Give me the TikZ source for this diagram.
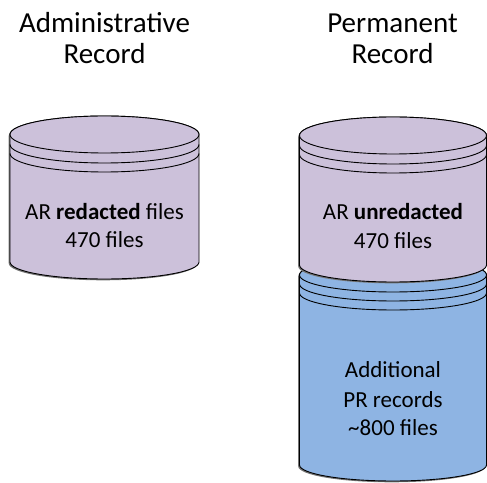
\documentclass[tikz,border=0pt]{standalone}
\usepackage{fontspec}
\setmainfont{Carlito}
\definecolor{lav}{HTML}{CCC1DA}
\definecolor{sky}{HTML}{8EB4E3}
\newcommand\canshape[7]{%
  \path[#7] ({#1-#2},#3) -- ({#1-#2},#5)
    arc[start angle=180,end angle=360,x radius=#2,y radius=#6]
    -- ({#1+#2},#3)
    arc[start angle=0,end angle=180,x radius=#2,y radius=#4] -- cycle;}
\newcommand\canring[4]{%
  \draw[outl] ({#1-#2},#3) arc[start angle=180,end angle=360,x radius=#2,y radius=#4];}
\newcommand\cantop[5]{%
  \path[fill=#5,outl] (#1,#3) ellipse[x radius=#2,y radius=#4];}
\begin{document}
\begin{tikzpicture}[x=1pt,y=1pt,
  outl/.style={draw=black, line width=0.9pt},
  shad/.style={fill=black!55, draw=none},
  title/.style={font=\fontsize{29}{31}\selectfont, anchor=base, inner sep=0pt, text=black},
  body/.style={font=\fontsize{23}{28}\selectfont, anchor=base, inner sep=0pt, text=black}]
\useasboundingbox (0,0) rectangle (487,482);

% ---- left cylinder: Administrative Record ----
\canshape{104.5}{94.5}{347.5}{18.5}{220}{17}{shad, xshift=-1.3pt, yshift=-1.3pt}
\canshape{104.5}{94.5}{347.5}{18.5}{220}{17}{fill=lav, outl}
\cantop{104.5}{94.5}{347.5}{18.5}{lav}
\canring{104.5}{94.5}{337.5}{18.5}
\canring{104.5}{94.5}{328.5}{18.5}

% ---- right cylinder: blue lower part ----
\canshape{393}{93.5}{207}{17}{17}{16}{shad, xshift=-1.3pt, yshift=-1.3pt}
\canshape{393}{93.5}{207}{17}{17}{16}{fill=sky, outl}
\cantop{393}{93.5}{207}{17}{sky}
\canring{393}{93.5}{198}{17}
\canring{393}{93.5}{189}{17}

% ---- right cylinder: purple upper part ----
\canshape{393}{93.5}{346.5}{18.5}{217}{17}{shad, xshift=-1.3pt, yshift=-1.3pt}
\canshape{393}{93.5}{346.5}{18.5}{217}{17}{fill=lav, outl}
\cantop{393}{93.5}{346.5}{18.5}{lav}
\canring{393}{93.5}{336.5}{18.5}
\canring{393}{93.5}{327.5}{18.5}

% ---- titles ----
\node[title] (t1a) at (104.5,449) {Administrative};
\node[title] (t1b) at (104.5,418) {Record};
\node[title] (t2a) at (392.5,449) {Permanent};
\node[title] (t2b) at (392.5,418) {Record};

% ---- labels ----
\node[body] (l1a) at (104.5,262) {AR \textbf{redacted} files};
\node[body] (l1b) at (104.5,234) {470 files};
\node[body] (l2a) at (393,262) {AR \textbf{unredacted}};
\node[body] (l2b) at (393,233) {470 files};
\node[body] (l3a) at (393,104) {Additional};
\node[body] (l3b) at (393,75) {PR records};
\node[body] (l3c) at (393,47) {\char`\~800 files};
\end{tikzpicture}
\end{document}
